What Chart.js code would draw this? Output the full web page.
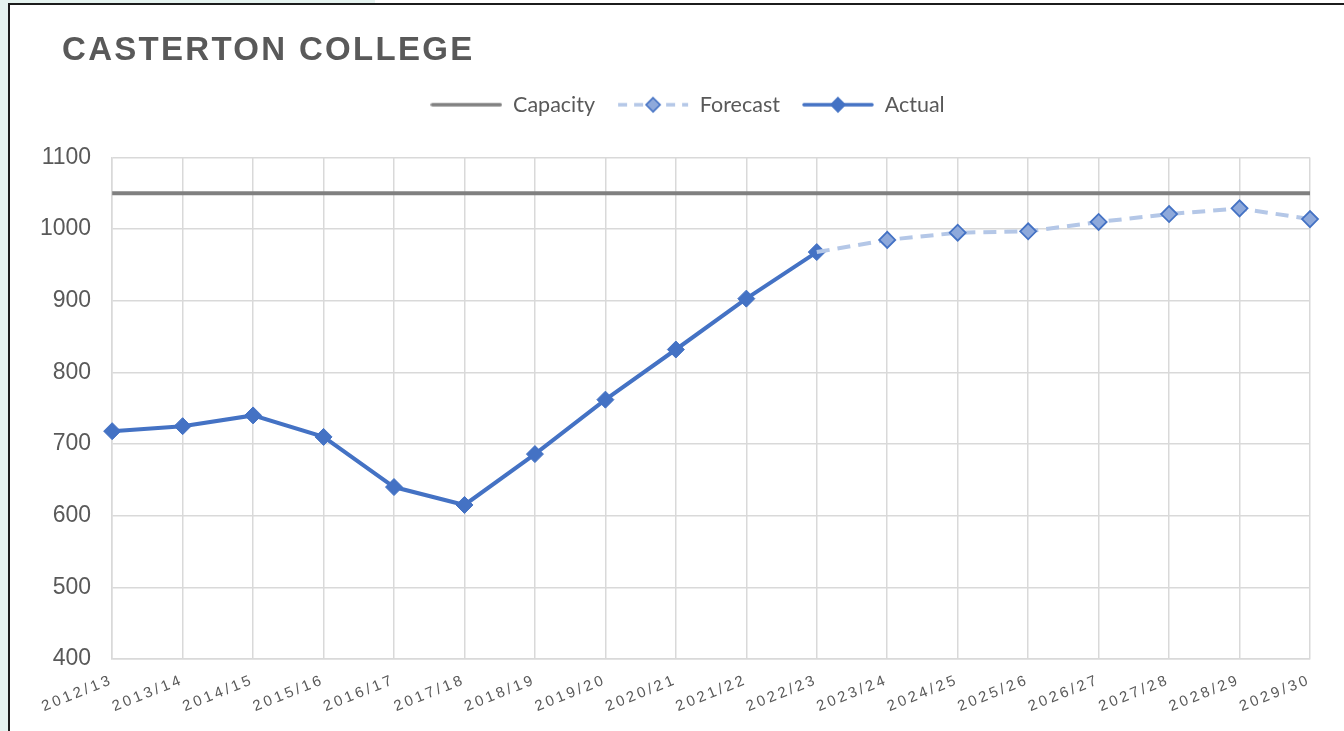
<!DOCTYPE html>
<html>
<head>
<meta charset="utf-8">
<script src="https://cdn.jsdelivr.net/npm/chart.js@4.4.1/dist/chart.umd.min.js"></script>
<style>
  body { margin: 0; background: #fff; width: 1344px; height: 731px; overflow: hidden; position: relative; }
  .mint-left { position: absolute; left: 0; top: 0; width: 8px; height: 731px; background: #e5f3f0; }
  .mint-top { position: absolute; left: 0; top: 0; width: 375px; height: 3px; background: #e5f3f0; }
  .edge-left { position: absolute; left: 8px; top: 3px; width: 2px; height: 728px; background: #1c1c1c; }
  .edge-top { position: absolute; left: 8px; top: 3px; width: 1336px; height: 2px; background: #1c1c1c; }
  #wrap { position: absolute; left: 10px; top: 5px; width: 1334px; height: 726px; }
  #title { position: absolute; left: 62px; top: 32px; font: bold 33px "Liberation Sans", Arial, sans-serif;
           line-height: 1; letter-spacing: 2.3px; color: #595959; z-index: 2; }
</style>
</head>
<body>
<div class="mint-left"></div>
<div class="mint-top"></div>
<div class="edge-left"></div>
<div class="edge-top"></div>
<div id="title">CASTERTON COLLEGE</div>
<div id="wrap"><canvas id="chart"></canvas></div>
<script>
const years = ["2012/13", "2013/14", "2014/15", "2015/16", "2016/17", "2017/18", "2018/19", "2019/20", "2020/21",
  "2021/22", "2022/23", "2023/24", "2024/25", "2025/26", "2026/27", "2027/28", "2028/29", "2029/30"];
const capacity = [1050, 1050, 1050, 1050, 1050, 1050, 1050, 1050, 1050, 1050, 1050, 1050, 1050, 1050, 1050, 1050, 1050, 1050];
const forecast = [null, null, null, null, null, null, null, null, null, null, 968, 985, 995, 997, 1010, 1021, 1029, 1014];
const actual = [718, 725, 740, 710, 640, 615, 686, 762, 832, 903, 968];

const BLUE = "#4472C4";
const LIGHT = "#B4C7E7";
const GREY = "#808080";

// little line + marker pictures for the legend
function legendSample(kind) {
  const c = document.createElement("canvas");
  c.width = 72;
  c.height = 18;
  const g = c.getContext("2d");
  g.lineCap = "round";
  g.lineWidth = 3.5;
  if (kind === "capacity") {
    g.strokeStyle = GREY;
    g.beginPath(); g.moveTo(2, 9); g.lineTo(70, 9); g.stroke();
  } else if (kind === "forecast") {
    g.strokeStyle = LIGHT;
    g.lineCap = "butt";
    g.setLineDash([9, 7]);
    g.beginPath(); g.moveTo(1, 9); g.lineTo(71, 9); g.stroke();
  } else {
    g.strokeStyle = BLUE;
    g.beginPath(); g.moveTo(2, 9); g.lineTo(70, 9); g.stroke();
  }
  if (kind !== "capacity") {
    g.setLineDash([]);
    g.beginPath();
    g.moveTo(36, 2); g.lineTo(43, 9); g.lineTo(36, 16); g.lineTo(29, 9); g.closePath();
    g.fillStyle = kind === "forecast" ? "#8EA9DB" : BLUE;
    g.fill();
    g.lineWidth = 1.6;
    g.strokeStyle = BLUE;
    g.stroke();
  }
  return c;
}
const samples = [legendSample("capacity"), legendSample("forecast"), legendSample("actual")];

const tweaks = {
  id: "tweaks",
  beforeInit(chart) {
    // extra room between legend and plot
    const fit = chart.legend.fit;
    chart.legend.fit = function () {
      fit.call(this);
      this.height += 32;
    };
  },
  afterLayout(chart) {
    // legend sits a bit right of the canvas centre
    chart.legend.left += 23;
    chart.legend.right += 23;
  },
  beforeDraw(chart) {
    const sx = chart.scales.x;
    if (!sx._spaced) {
      const orig = sx.drawLabels.bind(sx);
      sx.drawLabels = function (area) {
        chart.ctx.save();
        chart.ctx.letterSpacing = "3px";
        orig(area);
        chart.ctx.restore();
      };
      sx._spaced = true;
    }
  }
};

new Chart(document.getElementById("chart"), {
  type: "line",
  data: {
    labels: years,
    datasets: [
      { label: "Capacity", data: capacity, borderColor: GREY, backgroundColor: GREY, borderWidth: 4,
        pointRadius: 0, pointHoverRadius: 0 },
      { label: "Forecast", data: forecast, borderColor: LIGHT, backgroundColor: "#8EA9DB", borderWidth: 4,
        borderDash: [13, 8], pointStyle: "rectRot",
        pointRadius: forecast.map((v, i) => (i === actual.length - 1 ? 0 : 8)),
        pointBorderColor: BLUE, pointBackgroundColor: "#8EA9DB", pointBorderWidth: 1.8 },
      { label: "Actual", data: actual, borderColor: BLUE, backgroundColor: BLUE, borderWidth: 4,
        pointStyle: "rectRot", pointRadius: 8.5, pointBorderColor: BLUE, pointBackgroundColor: BLUE,
        pointBorderWidth: 1 }
    ]
  },
  options: {
    responsive: true,
    maintainAspectRatio: false,
    animation: false,
    layout: { padding: { top: 67, left: 9, right: 34, bottom: 11 } },
    plugins: {
      tooltip: { enabled: false },
      legend: {
        position: "top",
        labels: {
          font: { family: "Lato, 'Open Sans', sans-serif", size: 21.5 },
          color: "#595959",
          usePointStyle: true,
          pointStyleWidth: 72,
          padding: 22,
          generateLabels(chart) {
            const items = Chart.defaults.plugins.legend.labels.generateLabels(chart);
            items.forEach((it, i) => { it.pointStyle = samples[i]; });
            return items;
          }
        }
      }
    },
    scales: {
      x: {
        offset: false,
        afterFit(scale) { scale.paddingLeft = 0; },
        grid: { color: "#d9d9d9", lineWidth: 1.5, drawTicks: false },
        border: { color: "#d9d9d9", width: 1.5 },
        ticks: {
          color: "#595959",
          font: { family: "'Liberation Sans', Arial, sans-serif", size: 15 },
          minRotation: 22,
          maxRotation: 22,
          autoSkip: false,
          padding: 12
        }
      },
      y: {
        min: 400,
        max: 1100,
        grid: { color: "#d9d9d9", lineWidth: 1.5, drawTicks: false },
        border: { color: "#d9d9d9", width: 1.5 },
        ticks: {
          stepSize: 100,
          color: "#595959",
          font: { family: "'Liberation Sans', Arial, sans-serif", size: 23 },
          padding: 21,
          callback: (v) => String(v)
        }
      }
    }
  },
  plugins: [tweaks]
});
</script>
</body>
</html>
